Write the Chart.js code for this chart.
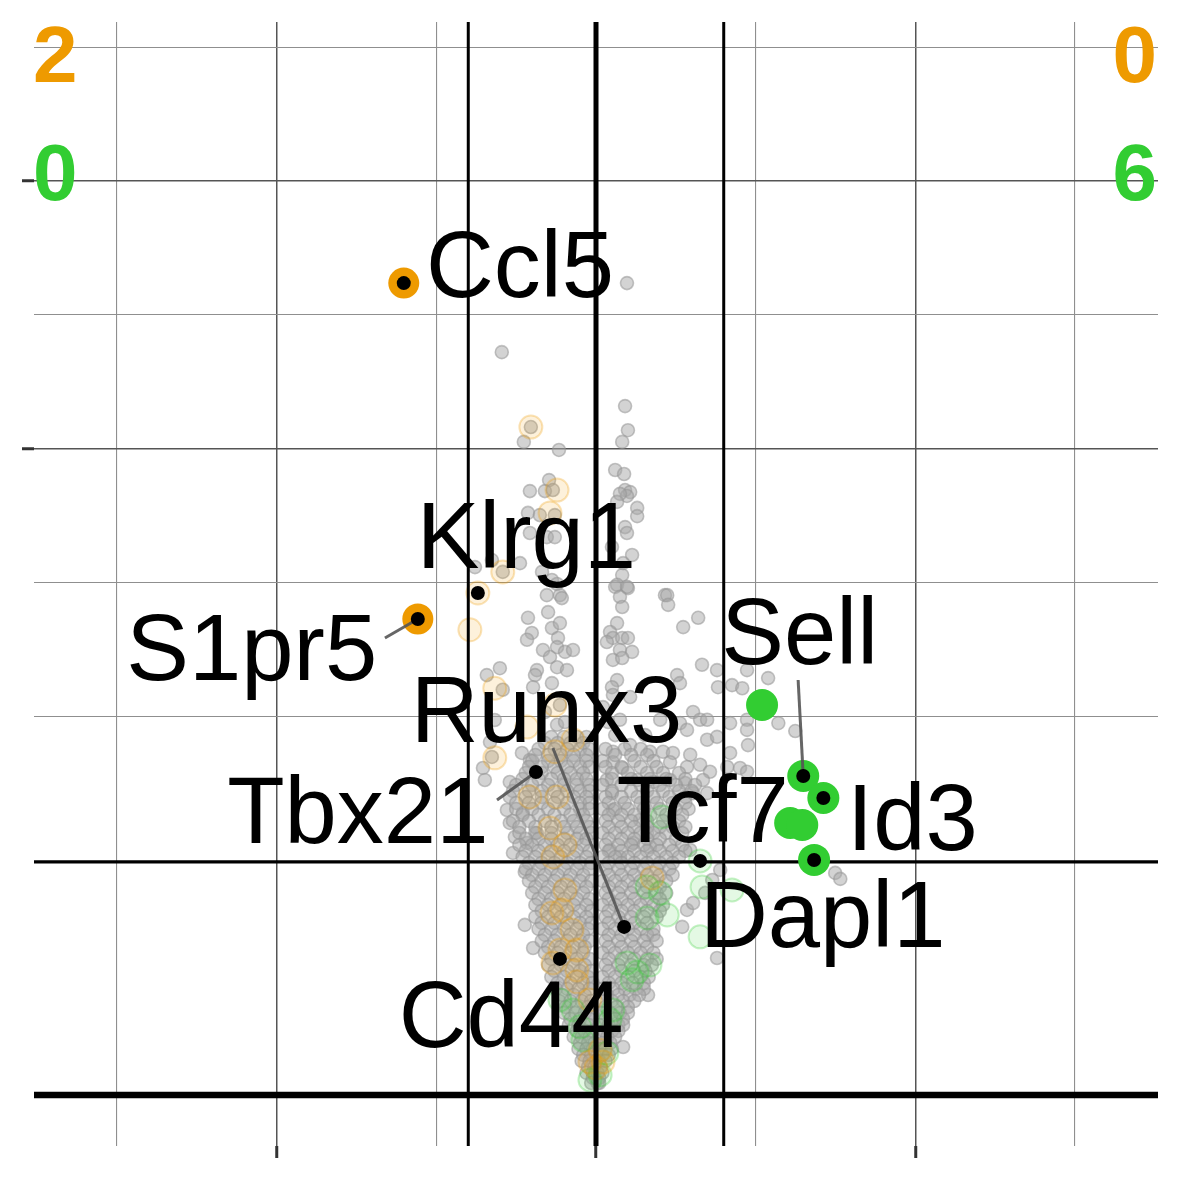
<!DOCTYPE html>
<html><head><meta charset="utf-8">
<script src="https://cdn.jsdelivr.net/npm/chart.js@4.4.1/dist/chart.umd.min.js"></script>
<style>html,body{margin:0;padding:0;background:#fff}#wrap{width:1181px;height:1181px}</style>
</head><body><div id="wrap"><canvas id="c" width="1181" height="1181"></canvas></div>
<script>
// ---------- data (x = log2 fold change, y = -log10 p) ----------
const xMajor = [-1, 0, 1];
const xMinor = [-1.5, -0.5, 0.5, 1.5];
const yMajor = [10, 20];
const yMinor = [3.432, 6.287, 14.571, 26.286];
const fcCut = 0.4;
const pCut = 1.301;
const countsLeft = ['2', '0'];   // orange, green
const countsRight = ['0', '6'];  // orange, green

// scattered grey genes [x, y]
const greySparse = [
 [0.097,15.78],[-0.295,13.21],[0.091,11.36],[0.100,10.58],[0.082,10.21],[-0.204,10.68],[-0.226,10.21],[-0.116,9.96],
 [0.060,9.35],[0.088,9.23],[0.091,8.76],[0.107,8.70],[0.097,8.59],[0.075,8.65],[0.066,8.42],[0.129,8.25],[0.129,8.02],
 [0.091,7.72],[0.097,7.56],[0.050,7.19],[0.113,6.98],[0.085,6.77],[0.082,6.47],[0.066,6.23],[0.100,6.15],[0.216,5.98],
 [-0.147,9.05],[-0.207,8.73],[-0.160,8.73],[-0.135,8.76],[-0.213,8.11],[-0.176,8.05],[-0.129,8.05],[-0.207,7.56],
 [-0.154,7.45],[-0.129,7.45],[-0.238,6.77],[-0.169,6.55],[-0.292,6.55],[-0.326,6.85],[-0.379,6.67],[-0.138,6.35],
 [-0.122,6.25],[-0.154,5.98],[-0.113,5.98],[-0.107,5.91],[-0.150,5.58],[-0.213,5.45],[-0.138,5.22],[-0.113,5.33],
 [-0.201,5.11],[-0.216,4.96],[-0.119,5.00],[-0.122,4.80],[-0.166,4.74],[-0.144,4.59],[-0.097,4.70],[-0.072,4.74],
 [-0.185,4.32],[-0.191,4.22],[-0.122,4.38],[-0.091,4.32],[-0.301,4.36],[-0.342,4.22],[-0.292,3.93],[-0.197,3.98],
 [-0.138,4.06],[-0.113,3.64],[-0.122,3.28],[-0.097,3.33],[-0.160,3.51],[-0.354,2.56],[-0.348,2.375],[-0.270,2.345],
 [-0.232,2.80],[-0.207,2.686],[-0.279,1.944],[-0.270,1.771],[-0.229,1.903],[-0.254,1.593],[-0.216,1.520],[-0.185,1.643],
 [-0.332,2.98],[-0.326,2.735],[-0.317,3.366],
 [0.060,6.18],[0.097,6.18],[0.075,5.94],[0.082,5.70],[0.223,5.98],[0.226,5.75],[0.273,5.24],[0.320,5.45],[0.066,5.33],
 [0.044,5.13],[0.053,5.00],[0.082,5.00],[0.100,5.00],[0.034,4.91],[0.075,4.74],[0.113,4.70],[0.053,4.53],[0.082,4.57],
 [0.332,4.43],[0.379,4.32],[0.382,3.98],[0.254,4.22],[0.263,4.06],[0.066,4.12],[0.050,3.98],[0.053,3.83],[0.107,3.79],
 [0.426,4.02],[0.458,3.96],[0.539,4.16],[0.473,4.32],[0.304,3.51],[0.326,3.37],[0.348,3.37],[0.022,3.60],[0.038,3.33],
 [0.075,3.37],[0.263,3.31],[0.285,3.19],[0.348,3.02],[0.379,3.07],[0.420,3.31],[0.473,3.37],[0.473,3.19],[0.476,2.93],
 [0.420,2.80],[0.411,2.575],[0.451,2.56],[0.473,2.50],[0.571,3.31],[0.169,2.82],[0.210,2.82],[0.241,2.80],[0.232,2.65],
 [0.295,2.77],[0.285,2.575],[0.326,2.61],[0.357,2.50],[0.335,2.375],[0.053,2.82],[0.053,2.65],[0.082,2.56],[0.034,2.375],
 [0.129,2.375],[0.179,2.345],[0.232,2.375],[0.279,2.33],[0.304,2.18],[0.348,2.18],[0.050,2.18],[0.053,1.944],[0.138,1.81],
 [0.160,1.643],[0.116,1.520],[0.169,1.472],[0.044,1.437],[0.075,1.356],[0.624,3.17],[0.749,1.18],[0.765,1.117],
 [0.201,3.37],[0.154,3.10],[0.107,2.93],[0.060,3.10],
 [-0.223,0.692],[-0.197,0.517],[-0.223,1.190],[-0.260,1.402],[0.379,0.449],[0.270,0.676],[0.285,0.819],[0.304,0.882],
 [0.389,1.212],[0.085,0.055],[0.163,0.239],[0.295,1.437],[0.364,1.106],[0.342,0.977]
];

// dense grey cloud, read row by row: [y, [x values]]
const greyRows = [
 [3.068,[-0.14,-0.10,-0.06,-0.03]],
 [2.966,[-0.16,-0.12,-0.08,-0.04]],
 [2.865,[-0.18,-0.13,-0.09,-0.05,-0.02,0.03,0.09,0.14]],
 [2.767,[-0.19,-0.15,-0.11,-0.07,-0.03,0.06,0.11,0.16]],
 [2.670,[-0.20,-0.15,-0.11,-0.07,-0.03,0.02,0.12,0.18]],
 [2.575,[-0.21,-0.17,-0.13,-0.09,-0.05,-0.02,0.03,0.08,0.14,0.19]],
 [2.482,[-0.22,-0.17,-0.12,-0.08,-0.04,0.05,0.10,0.16,0.21,0.26]],
 [2.390,[-0.23,-0.18,-0.14,-0.10,-0.06,-0.03,0.05,0.11,0.17,0.22,0.28]],
 [2.300,[-0.25,-0.20,-0.15,-0.10,-0.06,-0.02,0.02,0.08,0.14,0.20,0.25,0.31]],
 [2.212,[-0.26,-0.21,-0.17,-0.13,-0.09,-0.05,-0.02,0.05,0.11,0.16,0.21,0.26,0.30]],
 [2.126,[-0.27,-0.22,-0.17,-0.12,-0.07,-0.03,0.03,0.08,0.13,0.18,0.23,0.28]],
 [2.041,[-0.25,-0.21,-0.17,-0.13,-0.09,-0.05,-0.02,0.04,0.09,0.14,0.19,0.24,0.28]],
 [1.958,[-0.25,-0.20,-0.15,-0.10,-0.05,-0.02,0.02,0.06,0.10,0.15,0.20,0.25,0.29]],
 [1.877,[-0.23,-0.18,-0.13,-0.08,-0.04,0.04,0.08,0.12,0.17,0.22,0.27]],
 [1.797,[-0.26,-0.21,-0.16,-0.11,-0.07,-0.03,0.03,0.07,0.11,0.16,0.21,0.26]],
 [1.719,[-0.24,-0.19,-0.14,-0.10,-0.06,-0.02,0.04,0.08,0.12,0.16,0.20,0.24,0.28]],
 [1.643,[-0.24,-0.19,-0.14,-0.09,-0.05,-0.015,0.02,0.06,0.10,0.14,0.18,0.22,0.27]],
 [1.569,[-0.22,-0.18,-0.14,-0.10,-0.06,-0.03,0.04,0.08,0.12,0.16,0.20,0.25]],
 [1.496,[-0.24,-0.20,-0.16,-0.12,-0.08,-0.04,0.03,0.07,0.11,0.15,0.19,0.23,0.27]],
 [1.425,[-0.22,-0.18,-0.14,-0.10,-0.06,-0.02,0.04,0.08,0.12,0.16,0.20,0.24,0.28]],
 [1.356,[-0.23,-0.19,-0.15,-0.11,-0.07,-0.03,0.02,0.06,0.10,0.14,0.18,0.22,0.26]],
 [1.288,[-0.21,-0.17,-0.13,-0.09,-0.05,-0.015,0.04,0.08,0.12,0.16,0.20,0.24]],
 [1.223,[-0.22,-0.18,-0.14,-0.10,-0.06,-0.02,0.03,0.07,0.11,0.15,0.19,0.23]],
 [1.158,[-0.20,-0.16,-0.12,-0.08,-0.04,0.04,0.08,0.12,0.16,0.20,0.24]],
 [1.096,[-0.21,-0.17,-0.13,-0.09,-0.05,-0.015,0.02,0.06,0.10,0.14,0.18,0.22]],
 [1.036,[-0.19,-0.15,-0.11,-0.07,-0.03,0.04,0.08,0.12,0.16,0.20]],
 [0.977,[-0.20,-0.16,-0.12,-0.08,-0.04,0.03,0.07,0.11,0.15,0.19,0.22]],
 [0.919,[-0.18,-0.14,-0.10,-0.06,-0.02,0.04,0.08,0.12,0.16,0.20]],
 [0.864,[-0.19,-0.15,-0.11,-0.07,-0.03,0.02,0.06,0.10,0.14,0.18,0.21]],
 [0.810,[-0.17,-0.13,-0.09,-0.05,-0.015,0.04,0.08,0.12,0.16,0.20]],
 [0.758,[-0.19,-0.15,-0.11,-0.07,-0.03,0.03,0.07,0.11,0.15,0.19]],
 [0.708,[-0.17,-0.13,-0.09,-0.05,-0.015,0.04,0.08,0.12,0.16]],
 [0.660,[-0.18,-0.14,-0.10,-0.06,-0.025,0.02,0.06,0.10,0.14,0.18]],
 [0.613,[-0.16,-0.12,-0.08,-0.04,0.04,0.08,0.12,0.16,0.18]],
 [0.568,[-0.17,-0.13,-0.09,-0.05,-0.02,0.03,0.07,0.11,0.15,0.19]],
 [0.524,[-0.15,-0.11,-0.07,-0.035,0.04,0.08,0.12,0.16]],
 [0.483,[-0.16,-0.12,-0.08,-0.04,0.02,0.06,0.10,0.14,0.18]],
 [0.443,[-0.14,-0.10,-0.06,-0.02,0.04,0.08,0.12,0.16,0.19]],
 [0.404,[-0.15,-0.11,-0.07,-0.035,0.03,0.07,0.11,0.15,0.175]],
 [0.368,[-0.13,-0.09,-0.05,-0.015,0.04,0.08,0.12,0.155]],
 [0.333,[-0.14,-0.10,-0.06,-0.025,0.02,0.06,0.10,0.14,0.165]],
 [0.300,[-0.12,-0.08,-0.04,-0.01,0.04,0.08,0.115,0.15]],
 [0.269,[-0.125,-0.09,-0.055,-0.02,0.02,0.055,0.09,0.125,0.15]],
 [0.239,[-0.105,-0.07,-0.035,0.035,0.07,0.105,0.135]],
 [0.211,[-0.115,-0.08,-0.045,-0.015,0.015,0.05,0.085,0.12]],
 [0.185,[-0.095,-0.06,-0.025,0.03,0.065,0.10]],
 [0.161,[-0.10,-0.065,-0.035,-0.01,0.015,0.045,0.075,0.10]],
 [0.138,[-0.08,-0.05,-0.02,0.03,0.06,0.085]],
 [0.117,[-0.085,-0.055,-0.025,0.01,0.04,0.07,0.085]],
 [0.098,[-0.06,-0.035,-0.01,0.025,0.05,0.07]],
 [0.0805,[-0.07,-0.045,-0.02,0.01,0.035,0.06]],
 [0.0647,[-0.05,-0.025,-0.005,0.02,0.045]],
 [0.0506,[-0.055,-0.03,-0.01,0.01,0.03,0.05]],
 [0.0383,[-0.04,-0.015,0.02,0.04]],
 [0.0277,[-0.045,-0.02,0.0,0.01,0.03]],
 [0.0188,[-0.025,-0.005,0.015]],
 [0.0116,[-0.03,-0.01,0.005,0.02]],
 [0.0069,[-0.01,0.01]],
 [0.0034,[-0.015,0.005,0.01]]
];

// coloured, not significant (faded)
const orangeFaded = [
 [-0.204,10.68],[-0.122,8.76],[-0.144,8.11],[-0.292,6.55],[-0.395,5.18],[-0.370,6.032],[-0.317,3.96],[-0.129,3.64],
 [-0.216,3.24],[-0.072,3.02],[-0.129,2.82],[-0.317,2.72],[-0.207,2.126],[-0.122,2.126],[-0.144,1.706],[-0.097,1.496],
 [-0.135,1.356],[-0.097,1.006],[-0.138,0.793],[-0.107,0.819],[-0.075,0.652],[-0.113,0.503],[-0.060,0.503],
 [-0.135,0.417],[-0.060,0.374],[-0.060,0.306],[-0.019,0.216],[-0.019,0.026],[0.022,0.026],[0.176,1.127],
 [0.013,0.048],[0.0,0.0175]
];
const greenFaded = [
 [-0.113,0.216],[-0.072,0.173],[-0.050,0.111],[-0.041,0.072],[-0.019,0.0054],[0.053,0.173],[0.034,0.042],
 [0.160,1.036],[0.201,0.977],[0.160,0.75],[0.223,0.776],[0.097,0.417],[0.129,0.362],[0.169,0.404],[0.113,0.317],
 [0.332,1.036],[0.326,0.598],[0.426,1.006],[0.207,1.85],[0.326,1.311],[0.013,0.0096],[0.044,0.135]
];
// significant
const orangeSig = [[-0.602,15.78],[-0.558,5.423]];
const greenSig = [[0.520,3.641],[0.649,2.436],[0.712,2.111],[0.608,1.771],[0.646,1.745],[0.683,1.322]];

// labelled genes
const geneNames = ['Ccl5','Klrg1','S1pr5','Sell','Runx3','Tbx21','Tcf7','Id3','Dapl1','Cd44'];
const geneX     = [-0.602,-0.370,-0.558,0.649,0.088,-0.188,0.326,0.712,0.683,-0.113];
const geneY     = [15.78,6.032,5.423,2.436,0.676,2.497,1.311,2.111,1.322,0.443];
const labelX    = [-0.238,-0.218,-1.078,0.638,-0.155,-0.746,0.334,0.991,0.710,-0.266];
const labelY    = [15.24,6.647,4.122,4.446,2.983,1.520,1.532,1.437,0.524,0.0551];
// segment start (null = no segment)
const segX      = [null,null,-0.661,0.633,-0.135,-0.310,null,null,null,null];
const segY      = [null,null,4.999,4.122,2.882,2.083,null,null,null,null];

// ---------- sqrt scale ----------
const sgnSqrt = v => Math.sign(v) * Math.sqrt(Math.abs(v));
class SqrtScale extends Chart.LinearScale {
  getPixelForValue(value) {
    if (value === null || value === undefined || isNaN(value)) return NaN;
    const a = sgnSqrt(this.min), b = sgnSqrt(this.max);
    return this.getPixelForDecimal((sgnSqrt(value) - a) / (b - a));
  }
  getValueForPixel(pixel) {
    const a = sgnSqrt(this.min), b = sgnSqrt(this.max);
    const s = a + this.getDecimalForPixel(pixel) * (b - a);
    return Math.sign(s) * s * s;
  }
}
SqrtScale.id = 'sqrt';
SqrtScale.defaults = {};
Chart.register(SqrtScale);

// ---------- build datasets ----------
const ORANGE = '#EE9A00', GREEN = '#32CD32';
const pts = arr => arr.map(p => ({x: p[0], y: p[1]}));
const greyData = pts(greySparse);
greyRows.forEach(r => r[1].forEach(x => greyData.push({x: x, y: r[0]})));

const X0 = -1.76, X1 = 1.76, Y0 = -0.0625, Y1 = 27.5625;
const datasets = [];
datasets.push({data: greyData, order: 10, pointRadius: 6.5, pointHoverRadius: 6.5,
  backgroundColor: 'rgba(168,168,168,0.5)', borderColor: 'rgba(150,150,150,0.55)', borderWidth: 1.6});
datasets.push({data: pts(orangeFaded), order: 9, pointRadius: 11.5, pointHoverRadius: 11.5,
  backgroundColor: 'rgba(238,154,0,0.14)', borderColor: 'rgba(238,154,0,0.28)', borderWidth: 2});
datasets.push({data: pts(greenFaded), order: 9, pointRadius: 11.5, pointHoverRadius: 11.5,
  backgroundColor: 'rgba(50,205,50,0.13)', borderColor: 'rgba(50,205,50,0.28)', borderWidth: 2});
// reference lines
const refLine = (data, w) => ({data, showLine: true, pointRadius: 0, borderColor: '#000', borderWidth: w,
  borderCapStyle: 'butt', order: 8, clip: false});
datasets.push(refLine([{x: -fcCut, y: Y0}, {x: -fcCut, y: Y1}], 3));
datasets.push(refLine([{x: fcCut, y: Y0}, {x: fcCut, y: Y1}], 3));
datasets.push(refLine([{x: 0, y: Y0}, {x: 0, y: Y1}], 5));
datasets.push(refLine([{x: X0, y: pCut}, {x: X1, y: pCut}], 3.2));
datasets.push(refLine([{x: X0, y: 0}, {x: X1, y: 0}], 6.5));
// significant
datasets.push({data: pts(orangeSig), order: 5, pointRadius: 15.5, pointHoverRadius: 15.5,
  backgroundColor: ORANGE, borderWidth: 0});
datasets.push({data: pts(greenSig), order: 5, pointRadius: 16, pointHoverRadius: 16,
  backgroundColor: GREEN, borderWidth: 0});
// segments
geneNames.forEach((g, i) => {
  if (segX[i] === null) return;
  datasets.push({data: [{x: segX[i], y: segY[i]}, {x: geneX[i], y: geneY[i]}], showLine: true, pointRadius: 0,
    borderColor: 'rgba(85,85,85,0.9)', borderWidth: 3, order: 3});
});
// black dots of labelled genes
datasets.push({data: geneX.map((x, i) => ({x, y: geneY[i]})), order: 1, pointRadius: 7, pointHoverRadius: 7,
  backgroundColor: '#000', borderWidth: 0});

const isIn = (arr, v) => arr.some(a => Math.abs(a - v) < 1e-6);
const gridOpts = (major) => ({
  color: c => isIn(major, c.tick.value) ? '#555555' : '#8f8f8f',
  lineWidth: c => isIn(major, c.tick.value) ? 1.5 : 1.1,
  drawTicks: true, tickLength: 12,
  tickWidth: 3,
  tickColor: c => isIn(major, c.tick.value) ? '#333333' : 'rgba(0,0,0,0)'
});

const labelPlugin = {
  id: 'labels',
  afterDatasetsDraw(chart) {
    const ctx = chart.ctx, xs = chart.scales.x, ys = chart.scales.y;
    ctx.save();
    ctx.font = '94px "Liberation Sans", Arial, sans-serif';
    ctx.fillStyle = '#000';
    ctx.textAlign = 'center';
    ctx.textBaseline = 'alphabetic';
    geneNames.forEach((g, i) => ctx.fillText(g, xs.getPixelForValue(labelX[i]), ys.getPixelForValue(labelY[i])));
    ctx.restore();
  },
  afterDraw(chart) {
    const ctx = chart.ctx, a = chart.chartArea;
    ctx.save();
    ctx.font = 'bold 80px "Liberation Sans", Arial, sans-serif';
    ctx.textBaseline = 'alphabetic';
    ctx.textAlign = 'left';
    ctx.fillStyle = ORANGE; ctx.fillText(countsLeft[0], a.left - 1, a.top + 60);
    ctx.fillStyle = GREEN;  ctx.fillText(countsLeft[1], a.left - 1, a.top + 178);
    ctx.textAlign = 'right';
    ctx.fillStyle = ORANGE; ctx.fillText(countsRight[0], a.right - 1, a.top + 60);
    ctx.fillStyle = GREEN;  ctx.fillText(countsRight[1], a.right - 1, a.top + 178);
    ctx.restore();
  }
};

new Chart(document.getElementById('c'), {
  type: 'scatter',
  data: {datasets},
  options: {
    responsive: false, animation: false, devicePixelRatio: 1,
    layout: {padding: {top: 22, right: 23, left: 0, bottom: 0}},
    plugins: {legend: {display: false}, tooltip: {enabled: false}},
    events: [],
    scales: {
      x: {
        type: 'linear', min: X0, max: X1,
        afterBuildTicks: s => { s.ticks = xMajor.concat(xMinor).sort((a, b) => a - b).map(v => ({value: v})); },
        afterFit: s => { s.height = 35; },
        grid: gridOpts(xMajor),
        border: {display: false},
        ticks: {display: false}
      },
      y: {
        type: 'sqrt', min: Y0, max: Y1,
        afterBuildTicks: s => { s.ticks = yMajor.concat(yMinor).sort((a, b) => a - b).map(v => ({value: v})); },
        afterFit: s => { s.width = 34; },
        grid: gridOpts(yMajor),
        border: {display: false},
        ticks: {display: false}
      }
    }
  },
  plugins: [labelPlugin]
});
</script></body></html>
